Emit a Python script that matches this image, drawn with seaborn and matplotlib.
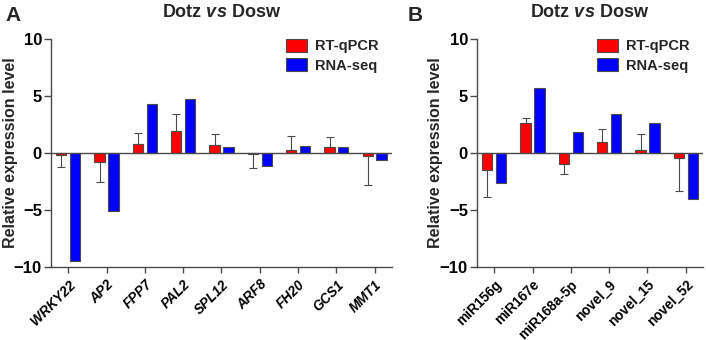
import numpy as np
import pandas as pd
import matplotlib
matplotlib.use("Agg")
import matplotlib.pyplot as plt
import seaborn as sns

# Panel A: genes
genes_a = ["WRKY22", "AP2", "FPP7", "PAL2", "SPL12", "ARF8", "FH20", "GCS1", "MMT1"]
qpcr_a = [-0.2, -0.8, 0.8, 1.9, 0.7, -0.1, 0.3, 0.5, -0.3]
qpcr_err_a = [1.0, 1.75, 0.95, 1.5, 1.0, 1.2, 1.2, 0.9, 2.5]
seq_a = [-9.5, -5.05, 4.3, 4.75, 0.5, -1.1, 0.6, 0.55, -0.65]

# Panel B: miRNAs
mirs_b = ["miR156g", "miR167e", "miR168a-5p", "novel_9", "novel_15", "novel_52"]
qpcr_b = [-1.5, 2.65, -0.95, 1.0, 0.25, -0.45]
qpcr_err_b = [2.35, 0.4, 0.9, 1.15, 1.45, 2.85]
seq_b = [-2.6, 5.75, 1.85, 3.4, 2.65, -4.05]

series = ["RT-qPCR", "RNA-seq"]
palette = {"RT-qPCR": "#ff0000", "RNA-seq": "#0000ff"}
line_col = "#4a4a4a"

sns.set_style("ticks")
plt.rcParams["font.family"] = ["Liberation Sans", "DejaVu Sans"]
plt.rcParams["mathtext.fontset"] = "custom"
plt.rcParams["mathtext.it"] = "Liberation Sans:italic:bold"
plt.rcParams["mathtext.rm"] = "Liberation Sans:bold"


def draw_panel(ax, cats, qpcr, err, seq, italic_labels, ylab_x):
    df = pd.DataFrame({
        "cat": cats * 2,
        "series": [series[0]] * len(cats) + [series[1]] * len(cats),
        "value": qpcr + seq,
    })
    sns.barplot(data=df, x="cat", y="value", hue="series", order=cats,
                hue_order=series, palette=palette, width=0.72, gap=0.25,
                edgecolor=line_col, linewidth=0.8, saturation=1, ax=ax)

    # one-sided error bars on the RT-qPCR bars
    for bar, v, e in zip(ax.containers[0], qpcr, err):
        xc = bar.get_x() + bar.get_width() / 2
        yerr = [[e], [0]] if v < 0 else [[0], [e]]
        ax.errorbar(xc, v, yerr=yerr, fmt="none", ecolor=line_col,
                    elinewidth=0.8, capsize=3, capthick=0.8, zorder=0)

    ax.axhline(0, color=line_col, linewidth=1.0, zorder=1)
    ax.set_ylim(-10, 10)
    ax.set_yticks([-10, -5, 0, 5, 10])
    ax.set_xlim(-0.45, len(cats) - 0.55)
    ax.set_xlabel("")
    ax.set_ylabel("Relative expression level", fontsize=11.5, fontweight="bold")
    ax.yaxis.set_label_coords(ylab_x, 0.5)
    ax.set_title(r"Dotz $\mathit{vs}$ Dosw", fontsize=13, fontweight="bold", pad=16)
    ax.set_xticks(range(len(cats)))
    ax.set_xticklabels(cats, rotation=45, ha="right", rotation_mode="anchor",
                       fontsize=9.8, fontweight="bold",
                       fontstyle="italic" if italic_labels else "normal")
    for lab in ax.get_yticklabels():
        lab.set_fontweight("bold")
        lab.set_fontsize(12)
    sns.despine(ax=ax)
    for sp in ["left", "bottom"]:
        ax.spines[sp].set_color(line_col)
        ax.spines[sp].set_linewidth(1.0)
    ax.tick_params(colors=line_col, labelcolor="black", length=4, width=1.0)
    ax.tick_params(axis="y", pad=1.5, length=5)
    ax.legend(title=None, frameon=False, loc="upper right",
              prop={"weight": "bold", "size": 10.5}, handlelength=1.4,
              handleheight=1.0, handletextpad=0.6, labelspacing=0.35,
              bbox_to_anchor=(1.0, 1.06))


fig = plt.figure(figsize=(7.06, 3.40), dpi=100)
ax_a = fig.add_axes([0.0722, 0.2147, 0.483, 0.6703])
ax_b = fig.add_axes([0.6756, 0.2147, 0.3202, 0.6703])

draw_panel(ax_a, genes_a, qpcr_a, qpcr_err_a, seq_a, True, -0.098)
draw_panel(ax_b, mirs_b, qpcr_b, qpcr_err_b, seq_b, False, -0.152)

fig.text(0.008, 0.955, "A", fontsize=15, fontweight="bold", va="center")
fig.text(0.578, 0.955, "B", fontsize=15, fontweight="bold", va="center")

fig.savefig("out.png", dpi=100)
